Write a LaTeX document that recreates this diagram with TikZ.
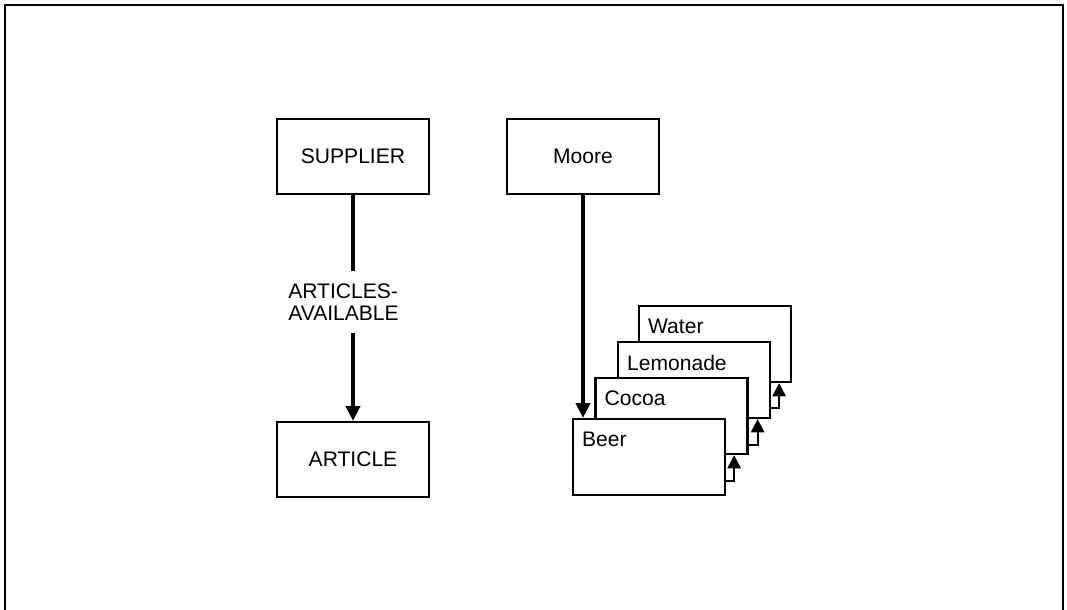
\documentclass[tikz,border=0pt]{standalone}
\usepackage{fontspec}
\setmainfont{Liberation Sans}
\usetikzlibrary{arrows.meta}

\begin{document}
\begin{tikzpicture}[x=0.75pt,y=-0.75pt]
\tikzstyle{every node}+=[font=\fontsize{15.8}{16.5}\selectfont]
\tikzstyle{entity}=[draw=black,line width=1.7pt,minimum width=114pt,minimum height=56.25pt,inner sep=0pt]
\tikzstyle{occ}=[entity,fill=white,minimum height=57pt]
\tikzstyle{occname}=[anchor=north west,inner sep=0pt,xshift=7.5pt,yshift=-10.5pt]
\tikzstyle{link}=[draw=black,line width=2.6pt]
\tikzstyle{nextocc}=[draw=black,line width=1.6pt,-{Triangle[width=10pt,length=10pt]}]
\useasboundingbox (0,0) rectangle (1067,610);
% frame, open at the bottom
\coordinate (fbl) at (5,610);
\coordinate (ftl) at (5,5);
\coordinate (ftr) at (1063,5);
\coordinate (fbr) at (1063,610);
\draw [black,line width=0.9pt] (fbl) -- (ftl) -- (ftr) -- (fbr);
% record types
\node (supplier) [entity] at (353,156.5) {SUPPLIER};
\node (article) [entity] at (353,459.5) {ARTICLE};
\node (avail) [anchor=west,align=left,inner xsep=0pt,inner ysep=9pt] at (288,302) {ARTICLES-\\AVAILABLE};
\draw [link] (supplier.south) -- (supplier.south |- avail.north);
\draw [link,-{Triangle[width=10.5pt,length=11pt]}] (article.north |- avail.south) -- (article.north);
% occurrences
\node (moore) [entity] at (583,156.5) {Moore};
\node (water) [occ,label={[occname]north west:Water}] at (715,344) {};
\node (lemonade) [occ,label={[occname]north west:Lemonade}] at (694,380) {};
\node (cocoa) [occ,label={[occname]north west:Cocoa}] at (671.5,416) {};
\node (beer) [occ,label={[occname]north west:Beer}] at (649,457) {};
\draw [link,-{Triangle[width=10.5pt,length=11pt]}] (moore.south) -- (moore.south |- beer.north);
\draw [nextocc] ([yshift=11.25pt]beer.south east) -- ++(8,0) coordinate (b1) -- (b1 |- cocoa.south);
\draw [nextocc] ([yshift=7.5pt]cocoa.south east) -- ++(9,0) coordinate (c1) -- (c1 |- lemonade.south);
\draw [nextocc] ([yshift=8.25pt]lemonade.south east) -- ++(8,0) coordinate (l1) -- (l1 |- water.south);
\end{tikzpicture}
\end{document}
